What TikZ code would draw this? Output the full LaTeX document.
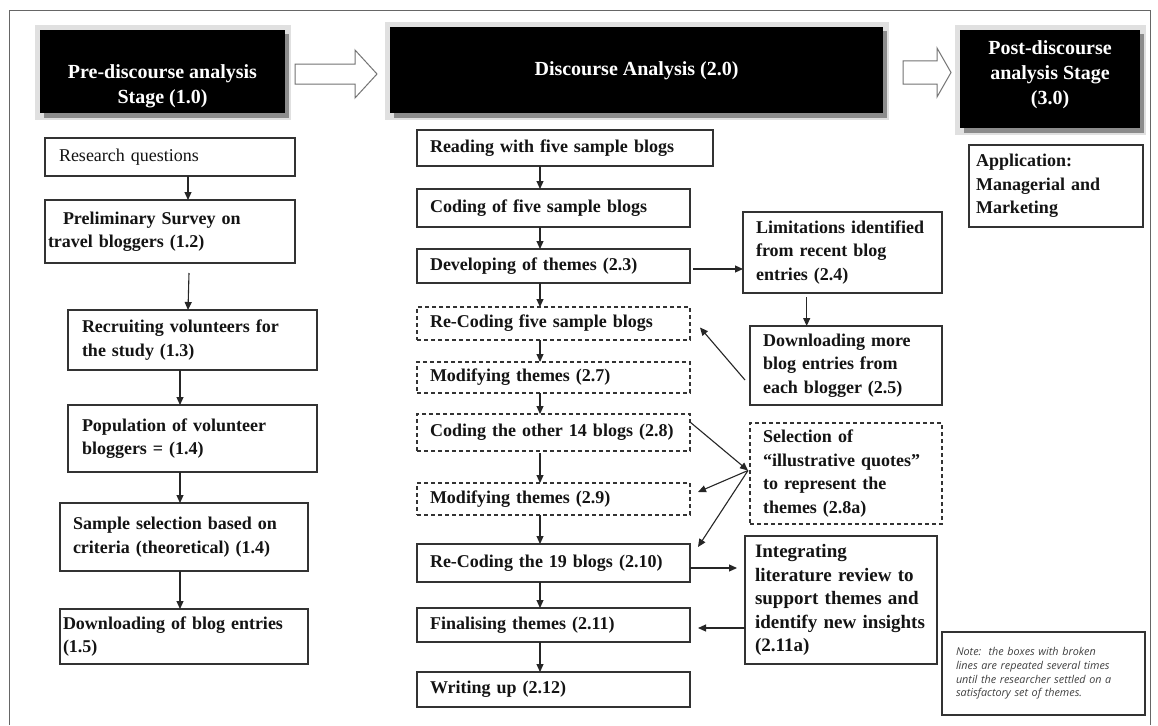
\documentclass[tikz,border=0pt]{standalone}
\usepackage{fontspec}
\setmainfont{Liberation Serif}
\newfontfamily\notefont{Open Sans}
\usetikzlibrary{arrows.meta,calc,backgrounds}
\begin{document}
\begin{tikzpicture}[x=1pt,y=-1pt,
  bx/.style={draw=black!80, line width=1.2pt, anchor=north west, inner xsep=13pt, inner ysep=2pt, align=left, font=\fontsize{18}{23.5}\selectfont\bfseries, outer sep=0pt, text=black!92},
  dbx/.style={bx, dash pattern=on 4pt off 3pt},
  blk/.style={fill=black, anchor=north west, inner sep=0pt, outer sep=0pt},
  btxt/.style={text=white, align=center, font=\fontsize{20}{25}\selectfont\bfseries, inner sep=0pt},
  arr/.style={-{Triangle[length=8pt,width=7pt]}, line width=1.1pt, black!85},
  hol/.style={draw=black!55, line width=1pt, fill=white, line join=miter},
]
\useasboundingbox (0,0) rectangle (1158,725);
\draw[black!60, line width=1pt] (9,725) -- (9,11) -- (1150,11) -- (1150,725);

% stage boxes
\node[blk, minimum width=245pt, minimum height=83pt] (b1) at (40,30) {};
\node[btxt] (t1) at ($(b1.center)+(0,15)$) {Pre-discourse analysis\\Stage (1.0)};
\node[blk, minimum width=493pt, minimum height=86pt] (b2) at (390,27) {};
\node[btxt] (t2) at ($(b2.center)+(0,1)$) {Discourse Analysis (2.0)};
\node[blk, minimum width=180pt, minimum height=98pt] (b3) at (960,30) {};
\node[btxt] (t3) at ($(b3.center)+(0,-4)$) {Post-discourse\\analysis Stage\\(3.0)};

\begin{scope}[on background layer]
  \fill[white] (0,0) rectangle (1158,725);
  \foreach \b in {b1,b2,b3}{
    \fill[black!12] ($(\b.north west)+(-5,-5)$) rectangle ($(\b.south east)+(6,7)$);
    \fill[black!45] ($(\b.north west)+(4,4)$) rectangle ($(\b.south east)+(4,5)$);
  }
\end{scope}

% hollow stage arrows
\draw[hol] (295,64) -- (355,64) -- (355,50) -- (377,74) -- (355,98) -- (355,84) -- (295,84) -- cycle;
\draw[hol] (903,61) -- (937,61) -- (937,48) -- (951,72.5) -- (937,97) -- (937,84) -- (903,84) -- cycle;

% left column
\node[bx, font=\fontsize{18}{23.5}\selectfont, inner xsep=14pt, minimum width=250pt, minimum height=38pt, text width=222pt] (rq) at (45,138) {Research questions};
\node[bx, inner xsep=3pt, minimum width=250pt, minimum height=63pt, text width=244pt] (pre) at (45,200) {\hspace*{15pt}Preliminary Survey on\\travel bloggers (1.2)};
\node[bx, inner xsep=14pt, minimum width=249pt, minimum height=60pt, text width=221pt] (rec) at (68,310) {Recruiting volunteers for\\the study (1.3)};
\node[bx, inner xsep=14pt, minimum width=249pt, minimum height=67pt, text width=221pt] (pop) at (68,405) {Population of volunteer\\bloggers = (1.4)};
\node[bx, minimum width=248pt, minimum height=68pt, text width=222pt] (sam) at (60,503) {Sample selection based on\\criteria (theoretical) (1.4)};
\node[bx, inner xsep=3pt, minimum width=248pt, minimum height=55pt, text width=242pt] (dl) at (60,609) {Downloading of blog entries\\(1.5)};

% middle column
\node[bx, minimum width=296pt, minimum height=36pt, text width=270pt] (read) at (417,130) {Reading with five sample blogs};
\node[bx, minimum width=273pt, minimum height=38pt, text width=247pt] (cod) at (417,189) {Coding of five sample blogs};
\node[bx, minimum width=273pt, minimum height=34pt, text width=247pt] (dev) at (417,249) {Developing of themes (2.3)};
\node[dbx, minimum width=273pt, minimum height=33pt, text width=247pt] (rc5) at (417,307) {Re-Coding five sample blogs};
\node[dbx, minimum width=273pt, minimum height=31pt, text width=247pt] (mod7) at (417,362) {Modifying themes (2.7)};
\node[dbx, minimum width=273pt, minimum height=37pt, text width=247pt] (c14) at (417,414) {Coding the other 14 blogs (2.8)};
\node[dbx, minimum width=273pt, minimum height=32pt, text width=247pt] (mod9) at (417,483) {Modifying themes (2.9)};
\node[bx, minimum width=273pt, minimum height=38pt, text width=247pt] (rc19) at (417,544) {Re-Coding the 19 blogs (2.10)};
\node[bx, minimum width=273pt, minimum height=34pt, text width=247pt] (fin) at (417,608) {Finalising themes (2.11)};
\node[bx, minimum width=273pt, minimum height=35pt, text width=247pt] (wri) at (417,672) {Writing up (2.12)};

% right column
\node[bx, minimum width=199pt, minimum height=81pt, text width=173pt] (lim) at (743,212) {Limitations identified\\from recent blog\\entries (2.4)};
\node[bx, minimum width=192pt, minimum height=79pt, text width=166pt] (dlm) at (750,326) {Downloading more\\blog entries from\\each blogger (2.5)};
\node[dbx, minimum width=192pt, minimum height=101pt, text width=166pt] (sel) at (750,423) {Selection of\\“illustrative quotes”\\to represent the\\themes (2.8a)};
\node[bx, font=\fontsize{19}{23.5}\selectfont\bfseries, inner xsep=10pt, minimum width=192pt, minimum height=128pt, text width=172pt] (int) at (745,536) {Integrating\\literature review to\\support themes and\\identify new insights\\(2.11a)};
\node[bx, inner xsep=7pt, minimum width=174pt, minimum height=82pt, text width=160pt] (app) at (969,145) {Application:\\Managerial and\\Marketing};
\node[bx, font=\notefont\itshape\fontsize{10.8}{13.7}\selectfont, text=black!75, inner xsep=14pt, minimum width=203pt, minimum height=83pt, text width=175pt] (note) at (942,632) {Note:\ \ the boxes with broken\\lines are repeated several times\\until the researcher settled on a\\satisfactory set of themes.};

% connectors
\coordinate (lxa) at (188,0);
\coordinate (lxb) at (180,0);
\coordinate (mx) at (540,0);
\draw[arr] (rq.south -| lxa) -- (pre.north -| lxa);
\draw[arr] ($(pre.south -| lxa)+(1,10)$) -- (rec.north -| lxa);
\draw[arr] (rec.south -| lxb) -- (pop.north -| lxb);
\draw[arr] (pop.south -| lxb) -- (sam.north -| lxb);
\draw[arr] (sam.south -| lxb) -- (dl.north -| lxb);

\draw[arr] (read.south -| mx) -- (cod.north -| mx);
\draw[arr] (cod.south -| mx) -- (dev.north -| mx);
\draw[arr] (dev.south -| mx) -- (rc5.north -| mx);
\draw[arr] (rc5.south -| mx) -- (mod7.north -| mx);
\draw[arr] (mod7.south -| mx) -- (c14.north -| mx);
\draw[arr] ($(c14.south -| mx)+(0,2)$) -- (mod9.north -| mx);
\draw[arr] (mod9.south -| mx) -- (rc19.north -| mx);
\draw[arr] (rc19.south -| mx) -- (fin.north -| mx);
\draw[arr] (fin.south -| mx) -- (wri.north -| mx);

\draw[arr] ([xshift=3pt,yshift=-3pt]dev.east) -- ([yshift=-3pt]dev.east -| lim.west);
\coordinate (lx) at ($(lim.south west)!0.32!(lim.south east)$);
\draw[arr] ($(lx)+(0,4)$) -- (lx |- dlm.north);
\draw[arr] ($(dlm.south west)+(-5,-25)$) -- ($(rc5.east)+(10,4)$);
\coordinate (sx) at ($(sel.west)+(-2,-3)$);
\draw[arr] ($(c14.north east)+(0,8)$) -- (sx);
\draw[arr] (sx) -- ($(mod9.east)+(8,-7)$);
\draw[arr] (sx) -- ($(rc19.north east)+(8,3)$);
\coordinate (r1) at ([yshift=-5pt]rc19.east);
\draw[arr] (r1) -- ($(r1 -| int.west)+(-8,0)$);
\coordinate (f1) at ([yshift=-3pt]fin.east);
\draw[arr] (f1 -| int.west) -- ($(f1)+(8,0)$);
\end{tikzpicture}
\end{document}
